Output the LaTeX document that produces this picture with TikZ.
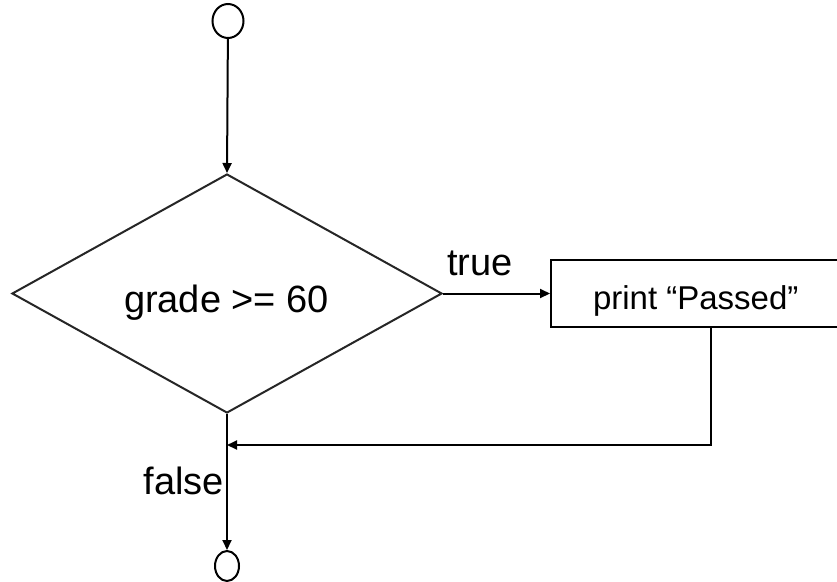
\documentclass[tikz,border=0pt]{standalone}
\usepackage{fontspec}
\setmainfont{Liberation Sans}
\usetikzlibrary{arrows.meta,shapes.geometric,calc}
\begin{document}
\begin{tikzpicture}[x=1pt,y=-1pt,
  line width=2pt,
  conn/.style={draw=black,-{Triangle[length=10pt,width=9pt]}},
  term/.style={draw=black,ellipse,inner sep=0pt,line width=2pt},
  decision/.style={draw=black!85,diamond,inner sep=0pt,minimum width=430pt,minimum height=239pt},
  actbox/.style={draw=black,rectangle,inner sep=0pt,minimum width=300pt,minimum height=67pt},
  bigtxt/.style={inner sep=0pt,font=\fontsize{38}{40}\selectfont},
  smalltxt/.style={inner sep=0pt,font=\fontsize{33}{35}\selectfont}]
\useasboundingbox (0,0) rectangle (837,581);
\clip (0,0) rectangle (837,581);
\fill[white] (0,0) rectangle (837,581);
\node[term,minimum width=31pt,minimum height=34pt] (start) at (228,21) {};
\node[decision] (dec) at (227,293.5) {};
\node[bigtxt,anchor=base] (dectxt) at (226.5,312) {grade >= 60};
\node[actbox] (box) at (701,293.5) {};
\node[smalltxt,anchor=base west] (boxtxt) at (592,309) {print “Passed”};
\node[term,minimum width=24pt,minimum height=30pt] (stop) at (227,566) {};
\node[bigtxt,anchor=base west] (truetxt) at (446,275) {true};
\node[bigtxt,anchor=base east] (falsetxt) at (225,494) {false};
\coordinate (turn) at (711,445);
\coordinate (join) at (dec.south |- turn);
\draw[conn] (start) -- (dec.north);
\draw[conn] (dec.east) -- (box.west);
\draw[conn] (box.south -| turn) -- (turn) -- (join);
\draw[conn] (dec.south) -- (stop.north);
\end{tikzpicture}
\end{document}
